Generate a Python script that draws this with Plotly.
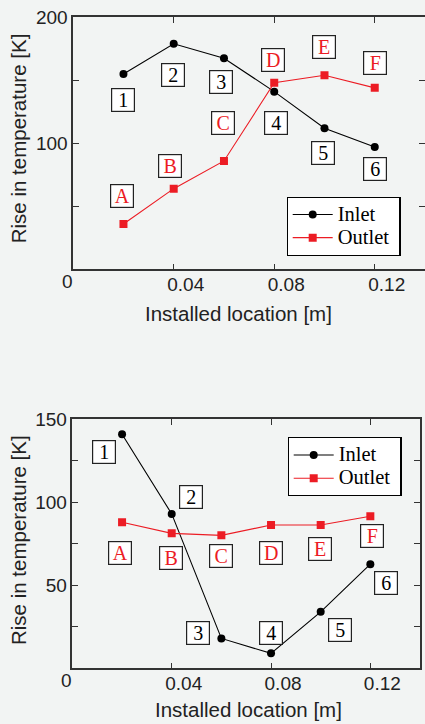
import plotly.graph_objects as go

W, H = 425, 724

# ---- data ----
location = [0.02, 0.04, 0.06, 0.08, 0.10, 0.12]

top_inlet = [155, 179, 167.5, 141, 112, 97]
top_outlet = [36, 64, 86, 148, 154, 144]

bot_inlet = [141, 93, 18, 9, 34, 62.7]
bot_outlet = [88, 81.3, 80.1, 86.3, 86.3, 91.6]

inlet_labels = ["1", "2", "3", "4", "5", "6"]
outlet_labels = ["A", "B", "C", "D", "E", "F"]

x_tickvals = [0.04, 0.08, 0.12]
x_ticktext = ["0.04", "0.08", "0.12"]
top_y_tickvals = [50, 100, 150, 200]
top_y_ticktext = ["", "100", "", "200"]
bot_y_tickvals = [25, 50, 75, 100, 125, 150]
bot_y_ticktext = ["", "50", "", "100", "", "150"]

# label box positions (data coordinates)
top_inlet_lx = [0.0198, 0.0397, 0.0587, 0.0807, 0.0993, 0.1202]
top_inlet_ly = [134.4, 154.5, 148.4, 116.3, 92, 80]
top_outlet_lx = [0.0195, 0.0387, 0.0598, 0.0797, 0.0999, 0.1202]
top_outlet_ly = [58.2, 82.2, 115.9, 166.1, 176.4, 164]

bot_inlet_lx = [0.0127, 0.0477, 0.0507, 0.0799, 0.1076, 0.1264]
bot_inlet_ly = [130.5, 103.4, 21.1, 21.1, 23.1, 51.2]
bot_outlet_lx = [0.0192, 0.0397, 0.0598, 0.0799, 0.0999, 0.1206]
bot_outlet_ly = [69.3, 66.3, 67.8, 69.3, 71.9, 79.7]

BLACK = "#000000"
RED = "#ec1c24"
BG = "#f2f4f3"
AX = "#333333"
SERIF = "Liberation Serif, Times New Roman, serif"
SANS = "Liberation Sans, Arial, sans-serif"
NARROW = "Liberation Sans Narrow, Arial Narrow, Liberation Sans, sans-serif"

def big(name):
    return '<span style="font-size:20.5px">' + name + '&nbsp;</span>'

fig = go.Figure()

def add_series(xaxis, yaxis, inlet, outlet, legend):
    fig.add_trace(go.Scatter(x=location, y=inlet, mode="lines+markers", name=big("Inlet"),
                             line=dict(color=BLACK, width=1.1),
                             marker=dict(symbol="circle", size=8, color=BLACK),
                             xaxis=xaxis, yaxis=yaxis, legend=legend))
    fig.add_trace(go.Scatter(x=location, y=outlet, mode="lines+markers", name=big("Outlet"),
                             line=dict(color=RED, width=1.1),
                             marker=dict(symbol="square", size=8, color=RED),
                             xaxis=xaxis, yaxis=yaxis, legend=legend))

add_series("x", "y", top_inlet, top_outlet, "legend")
add_series("x2", "y2", bot_inlet, bot_outlet, "legend2")

axis_common = dict(showline=True, linecolor=AX, linewidth=1.5, mirror="ticks",
                   ticks="inside", ticklen=6, tickwidth=1.2, tickcolor=AX,
                   showgrid=False, zeroline=False, automargin=False,
                   tickfont=dict(family=NARROW, size=19, color="#222"))

def px(xp):
    return xp / W

def py(yp):
    return 1 - yp / H

legend_common = dict(xanchor="left", yanchor="top",
                     bgcolor="white", bordercolor=BLACK, borderwidth=1.2,
                     font=dict(family=SERIF, size=15.5, color=BLACK), tracegroupgap=0,
                     itemwidth=40)

fig.update_layout(
    template="none",
    width=W, height=H, autosize=False,
    margin=dict(l=0, r=0, t=0, b=0, pad=0),
    paper_bgcolor=BG, plot_bgcolor=BG,
    showlegend=True,
    xaxis=dict(domain=[px(73.2), 1.0], range=[0, 0.14], tickvals=x_tickvals, ticktext=x_ticktext,
               anchor="y", ticklabelshift=12, ticklabelstandoff=-3, **axis_common),
    yaxis=dict(domain=[py(269.3), py(17.3)], range=[0, 200], tickvals=top_y_tickvals,
               ticktext=top_y_ticktext, anchor="x", **axis_common),
    xaxis2=dict(domain=[px(72.4), px(420)], range=[0, 0.14], tickvals=x_tickvals, ticktext=x_ticktext,
                anchor="y2", ticklabelshift=12, ticklabelstandoff=-3, **axis_common),
    yaxis2=dict(domain=[py(668.3), py(419.3)], range=[0, 150], tickvals=bot_y_tickvals,
                ticktext=bot_y_ticktext, anchor="x2", **axis_common),
    legend=dict(x=px(286.5), y=py(196.7), **legend_common),
    legend2=dict(x=px(287.5), y=py(437.3), **legend_common),
)

annotations = []

def box_labels(xref, yref, texts, xs, ys, color):
    for t, xv, yv in zip(texts, xs, ys):
        annotations.append(dict(x=xv, y=yv, xref=xref, yref=yref, text=t, showarrow=False,
                                font=dict(family=SERIF, size=20, color=color),
                                bgcolor="white", bordercolor="#222", borderwidth=1.2,
                                borderpad=0, width=22, height=22,
                                xanchor="center", yanchor="middle", align="center", valign="middle"))

box_labels("x", "y", inlet_labels, top_inlet_lx, top_inlet_ly, BLACK)
box_labels("x", "y", outlet_labels, top_outlet_lx, top_outlet_ly, RED)
box_labels("x2", "y2", inlet_labels, bot_inlet_lx, bot_inlet_ly, BLACK)
box_labels("x2", "y2", outlet_labels, bot_outlet_lx, bot_outlet_ly, RED)

# corner "0" labels
for xr, yr in (("x", "y"), ("x2", "y2")):
    annotations.append(dict(x=0, y=0, xref=xr, yref=yr, text="0", showarrow=False,
                            xshift=-6, yshift=-12,
                            font=dict(family=NARROW, size=19, color="#222"),
                            xanchor="center", yanchor="middle"))

# axis titles
title_font = dict(family=SANS, size=20.5, color="#222")
annotations.append(dict(x=px(238.7), y=py(313), xref="paper", yref="paper",
                        text="Installed location [m]", showarrow=False, font=title_font,
                        xanchor="center", yanchor="middle"))
annotations.append(dict(x=px(248), y=py(709), xref="paper", yref="paper",
                        text="Installed location [m]", showarrow=False, font=title_font,
                        xanchor="center", yanchor="middle"))
annotations.append(dict(x=px(18), y=py(138.3), xref="paper", yref="paper",
                        text="Rise in temperature [K]", showarrow=False, font=title_font,
                        textangle=-90, xanchor="center", yanchor="middle"))
annotations.append(dict(x=px(18), y=py(540), xref="paper", yref="paper",
                        text="Rise in temperature [K]", showarrow=False, font=title_font,
                        textangle=-90, xanchor="center", yanchor="middle"))

fig.update_layout(annotations=annotations)

fig.write_html("out.html", config={"displayModeBar": False},
               post_script="document.body.style.margin='0';document.body.style.overflow='hidden';document.body.style.background='" + BG + "';")
